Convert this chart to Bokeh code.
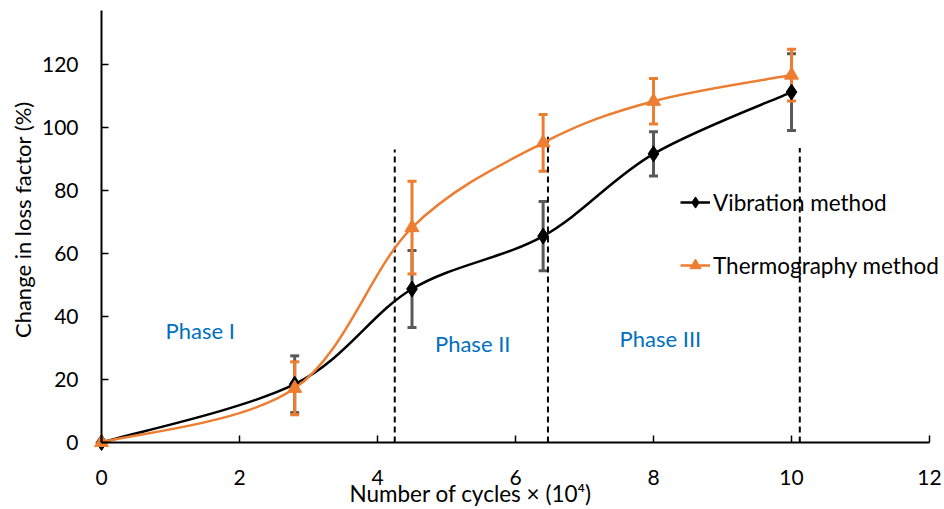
import math
from bokeh.plotting import figure
from bokeh.models import (Range1d, FixedTicker, Whisker, TeeHead, ColumnDataSource,
                          Legend, LegendItem, Label)
from bokeh.core.properties import value
from bokeh.embed import file_html
from bokeh.resources import INLINE

# ---- data ----
cycles = [0, 2.8, 4.5, 6.4, 8.0, 10.0]
vibration = [0, 18.5, 48.7, 65.5, 91.6, 111.2]
vibration_err = [0, 9.0, 12.2, 11.0, 7.0, 12.2]
thermography = [0, 17.2, 68.2, 95.1, 108.3, 116.6]
thermography_err = [0, 8.4, 14.7, 9.0, 7.2, 8.2]

phase_x = [4.25, 6.47, 10.12]
phase_top = [93, 97, 93.5]

phase_labels = ["Phase I", "Phase II", "Phase III"]
phase_label_x = [1.43, 5.38, 8.1]
phase_label_y = [35.5, 31.3, 32.9]

x_ticks = [0, 2, 4, 6, 8, 10, 12]
y_ticks = [0, 20, 40, 60, 80, 100, 120]
x_axis_max = 12
y_axis_max = 137.1

x_title = "Number of cycles × (10⁴)"
y_title = "Change in loss factor (%)"

FONT = "Lato"
ORANGE = "#ED7D31"
BLUE = "#0070C0"


def catmull_bezier(xs, ys):
    n = len(xs)
    x0, y0, x1, y1, cx0, cy0, cx1, cy1 = [], [], [], [], [], [], [], []
    for i in range(n - 1):
        im = max(i - 1, 0)
        ip2 = min(i + 2, n - 1)
        x0.append(xs[i]); y0.append(ys[i])
        x1.append(xs[i + 1]); y1.append(ys[i + 1])
        cx0.append(xs[i] + (xs[i + 1] - xs[im]) / 6.0)
        cy0.append(ys[i] + (ys[i + 1] - ys[im]) / 6.0)
        cx1.append(xs[i + 1] - (xs[ip2] - xs[i]) / 6.0)
        cy1.append(ys[i + 1] - (ys[ip2] - ys[i]) / 6.0)
    return dict(x0=x0, y0=y0, x1=x1, y1=y1, cx0=cx0, cy0=cy0, cx1=cx1, cy1=cy1)


# the frame covers the whole canvas; the axes sit at x=0 / y=0 inside it
p = figure(frame_width=944, frame_height=509, output_backend="svg", toolbar_location=None,
           x_range=Range1d(-1.4638, 12.217), y_range=Range1d(-21.26, 140.27),
           min_border_left=0, min_border_right=0, min_border_top=0, min_border_bottom=0)
p.outline_line_color = None
p.xgrid.visible = False
p.ygrid.visible = False
p.background_fill_color = "white"

for ax in (p.xaxis[0], p.yaxis[0]):
    ax.fixed_location = 0
    ax.axis_line_width = 2
    ax.axis_line_color = "black"
    ax.major_tick_line_color = "black"
    ax.major_tick_line_width = 1.5
    ax.major_tick_in = 7
    ax.major_tick_out = 0
    ax.minor_tick_line_color = None
    ax.major_label_text_font = FONT
    ax.major_label_text_font_size = "21px"
    ax.major_label_text_color = "black"

p.xaxis.bounds = (0, x_axis_max)
p.yaxis.bounds = (0, y_axis_max)
p.xaxis.ticker = FixedTicker(ticks=x_ticks)
p.yaxis.ticker = FixedTicker(ticks=y_ticks)
p.xaxis.major_label_standoff = 27
p.yaxis.major_label_standoff = 23

# axis titles (placed like the reference, slightly off-centre)
p.add_layout(Label(x=5.35, y=-16.2, text=x_title, text_font=FONT, text_font_size="22.5px",
                   text_color="black", text_align="center", text_baseline="middle"))
p.add_layout(Label(x=-1.14, y=70.7, text=y_title, text_font=FONT, text_font_size="22px",
                   text_color="black", text_align="center", text_baseline="middle",
                   angle=math.pi / 2))

# phase boundaries
p.segment(x0=phase_x, y0=[0] * len(phase_x), x1=phase_x, y1=phase_top,
          line_color="black", line_width=2, line_dash="6 4")

# phase labels
p.text(x=phase_label_x, y=phase_label_y, text=phase_labels, text_color=BLUE,
       text_font=value(FONT), text_font_size="22px", text_align="center",
       text_baseline="middle")

# vibration
vsrc = ColumnDataSource(dict(x=cycles, y=vibration,
                             lo=[v - e for v, e in zip(vibration, vibration_err)],
                             hi=[v + e for v, e in zip(vibration, vibration_err)]))
p.add_layout(Whisker(source=vsrc, base="x", lower="lo", upper="hi",
                     line_color="#595959", line_width=3,
                     lower_head=TeeHead(size=9, line_color="#595959", line_width=3),
                     upper_head=TeeHead(size=9, line_color="#595959", line_width=3)))
p.bezier(source=ColumnDataSource(catmull_bezier(cycles, vibration)),
         x0="x0", y0="y0", x1="x1", y1="y1", cx0="cx0", cy0="cy0", cx1="cx1", cy1="cy1",
         line_color="black", line_width=2.5)
v_marks = p.scatter(x="x", y="y", source=vsrc, marker="diamond", size=16,
                    fill_color="black", line_color="black")

# thermography
tsrc = ColumnDataSource(dict(x=cycles, y=thermography,
                             lo=[v - e for v, e in zip(thermography, thermography_err)],
                             hi=[v + e for v, e in zip(thermography, thermography_err)]))
p.add_layout(Whisker(source=tsrc, base="x", lower="lo", upper="hi",
                     line_color=ORANGE, line_width=3,
                     lower_head=TeeHead(size=9, line_color=ORANGE, line_width=3),
                     upper_head=TeeHead(size=9, line_color=ORANGE, line_width=3)))
p.bezier(source=ColumnDataSource(catmull_bezier(cycles, thermography)),
         x0="x0", y0="y0", x1="x1", y1="y1", cx0="cx0", cy0="cy0", cx1="cx1", cy1="cy1",
         line_color=ORANGE, line_width=2.5)
t_marks = p.scatter(x="x", y="y", source=tsrc, marker="triangle", size=14,
                    fill_color=ORANGE, line_color=ORANGE)

# legend swatches (line part): a single undrawable point so only the legend shows it
nan = float("nan")
v_leg_line = p.line(x=[nan], y=[nan], line_color="black", line_width=2.5)
t_leg_line = p.line(x=[nan], y=[nan], line_color=ORANGE, line_width=2.5)

legend = Legend(items=[
    LegendItem(label="Vibration method", renderers=[v_leg_line, v_marks]),
    LegendItem(label="Thermography method", renderers=[t_leg_line, t_marks]),
], location=(680, 230))
legend.background_fill_alpha = 0
legend.border_line_color = None
legend.padding = 0
legend.margin = 0
legend.glyph_width = 30
legend.glyph_height = 28
legend.label_height = 28
legend.spacing = 35
legend.label_standoff = 3
legend.label_text_font = FONT
legend.label_text_font_size = "22.5px"
legend.label_text_color = "black"
p.add_layout(legend, "center")

open("out.html", "w").write(file_html(p, INLINE))
